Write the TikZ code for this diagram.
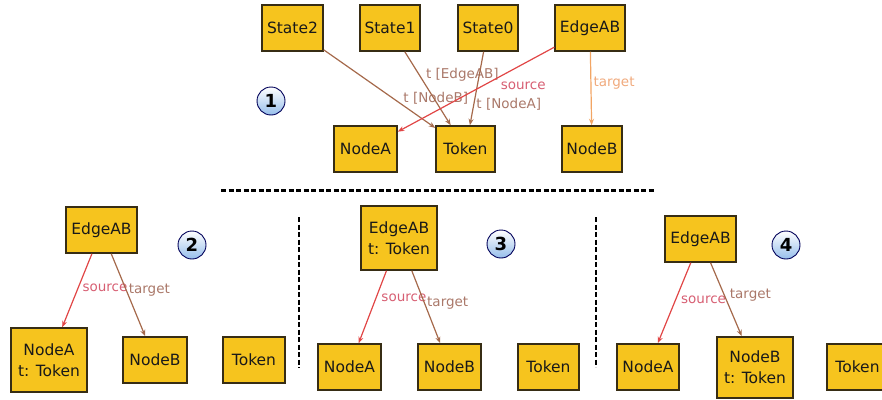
\documentclass[tikz,border=0pt]{standalone}
\usepackage{fontspec}
\setmainfont{DejaVu Sans}
\usetikzlibrary{arrows.meta}

\definecolor{boxfill}{RGB}{246,196,30}
\definecolor{boxline}{RGB}{55,45,20}
\definecolor{srcred}{RGB}{225,70,70}
\definecolor{tgtbrown}{RGB}{165,105,75}
\definecolor{tgtorange}{RGB}{242,165,100}
\definecolor{srclabel}{RGB}{215,95,115}
\definecolor{tgtlabel}{RGB}{170,120,105}
\definecolor{orlabel}{RGB}{240,170,125}
\definecolor{ballblue}{RGB}{150,190,235}

\begin{document}
\begin{tikzpicture}[x=1pt, y=-1pt,
            box/.style={draw=boxline, line width=1.5pt, fill=boxfill, minimum width=61pt, minimum height=46pt,
                inner sep=1pt, align=center, text=black!90, font=\fontsize{15.5}{21}\selectfont},
            num/.style={circle, draw=blue!35!black, line width=0.9pt, top color=white, bottom color=ballblue,
                minimum size=28pt, inner sep=0pt, font=\bfseries\fontsize{18}{18}\selectfont},
            srcarrow/.style={draw=srcred, line width=1.2pt, -{Stealth[length=6.5pt, width=5pt]}},
            tgtarrow/.style={draw=tgtbrown, line width=1.2pt, -{Stealth[length=6.5pt, width=5pt]}},
            orarrow/.style={draw=tgtorange, line width=1.2pt, -{Stealth[length=6.5pt, width=5pt]}},
            lbl/.style={anchor=west, inner sep=2pt, font=\fontsize{13.5}{13.5}\selectfont},
            sep/.style={line width=2.8pt, dash pattern=on 5pt off 2.5pt}]
            \useasboundingbox (0,0) rectangle (882,399);
            \node[box] (State2) at (292.5,28) {State2};
            \node[box, minimum width=60pt] (State1) at (390,28) {State1};
            \node[box, minimum width=60pt] (State0) at (488,28) {State0};
            \node[box, minimum width=70pt] (EdgeAB1) at (590,28) {EdgeAB};
            \node[box, minimum width=63pt] (NodeA1) at (365.5,149) {NodeA};
            \node[box, minimum width=59pt] (Token1) at (465.5,149) {Token};
            \node[box, minimum width=60pt] (NodeB1) at (592,149) {NodeB};
            \node[num] (one) at (271,101) {1};
            \draw[tgtarrow]
                (State2) -- node[lbl, pos=0.62, xshift=8pt, text=tgtlabel] {t [NodeB]} (Token1);
            \draw[tgtarrow]
                (State1) -- node[lbl, pos=0.32, xshift=4pt, text=tgtlabel] {t [EdgeAB]} (Token1);
            \draw[tgtarrow]
                (State0) -- node[lbl, pos=0.71, text=tgtlabel] {t [NodeA]} (Token1);
            \draw[srcarrow]
                (EdgeAB1) -- node[lbl, pos=0.46, xshift=16pt, text=srclabel] {source} (NodeA1);
            \draw[orarrow]
                (EdgeAB1) -- node[lbl, pos=0.43, text=orlabel] {target} (NodeB1);

            \draw[sep] (221,190.5) -- (655,190.5);
            \draw[sep] (299,217) -- (299,368);
            \draw[sep] (596,217) -- (596,367);

            \node[box, minimum width=71pt] (EdgeAB2) at (101.5,230) {EdgeAB};
            \node[box, minimum width=76pt, minimum height=64pt] (NodeA2) at (49,360) {NodeA\\t: Token};
            \node[box, minimum width=64pt] (NodeB2) at (155,360) {NodeB};
            \node[box, minimum width=62pt] (Token2) at (254,360) {Token};
            \node[num] (two) at (192,245) {2};
            \draw[srcarrow]
                (EdgeAB2) -- node[lbl, pos=0.47, xshift=2pt, text=srclabel] {source} (NodeA2);
            \draw[tgtarrow]
                (EdgeAB2) -- node[lbl, pos=0.44, xshift=0pt, text=tgtlabel] {target} (NodeB2);

            \node[box, minimum width=76pt, minimum height=64pt] (EdgeAB3) at (399,238) {EdgeAB\\t: Token};
            \node[box, minimum width=63pt] (NodeA3) at (349.5,367) {NodeA};
            \node[box, minimum width=63pt] (NodeB3) at (449.5,367) {NodeB};
            \node[box, minimum width=61pt] (Token3) at (548.5,367) {Token};
            \node[num] (three) at (501,244) {3};
            \draw[srcarrow]
                (EdgeAB3) -- node[lbl, pos=0.38, xshift=3pt, text=srclabel] {source} (NodeA3);
            \draw[tgtarrow]
                (EdgeAB3) -- node[lbl, pos=0.45, xshift=0pt, text=tgtlabel] {target} (NodeB3);

            \node[box, minimum width=71pt] (EdgeAB4) at (700.5,239) {EdgeAB};
            \node[box, minimum width=62pt] (NodeA4) at (648,367) {NodeA};
            \node[box, minimum width=76pt, minimum height=61pt] (NodeB4) at (755,367.5) {NodeB\\t: Token};
            \node[box, minimum width=61pt] (Token4) at (857.5,367) {Token};
            \node[num] (four) at (786,245) {4};
            \draw[srcarrow]
                (EdgeAB4) -- node[lbl, pos=0.46, xshift=3pt, text=srclabel] {source} (NodeA4);
            \draw[tgtarrow]
                (EdgeAB4) -- node[lbl, pos=0.44, xshift=3pt, text=tgtlabel] {target} (NodeB4);
        \end{tikzpicture}
\end{document}
